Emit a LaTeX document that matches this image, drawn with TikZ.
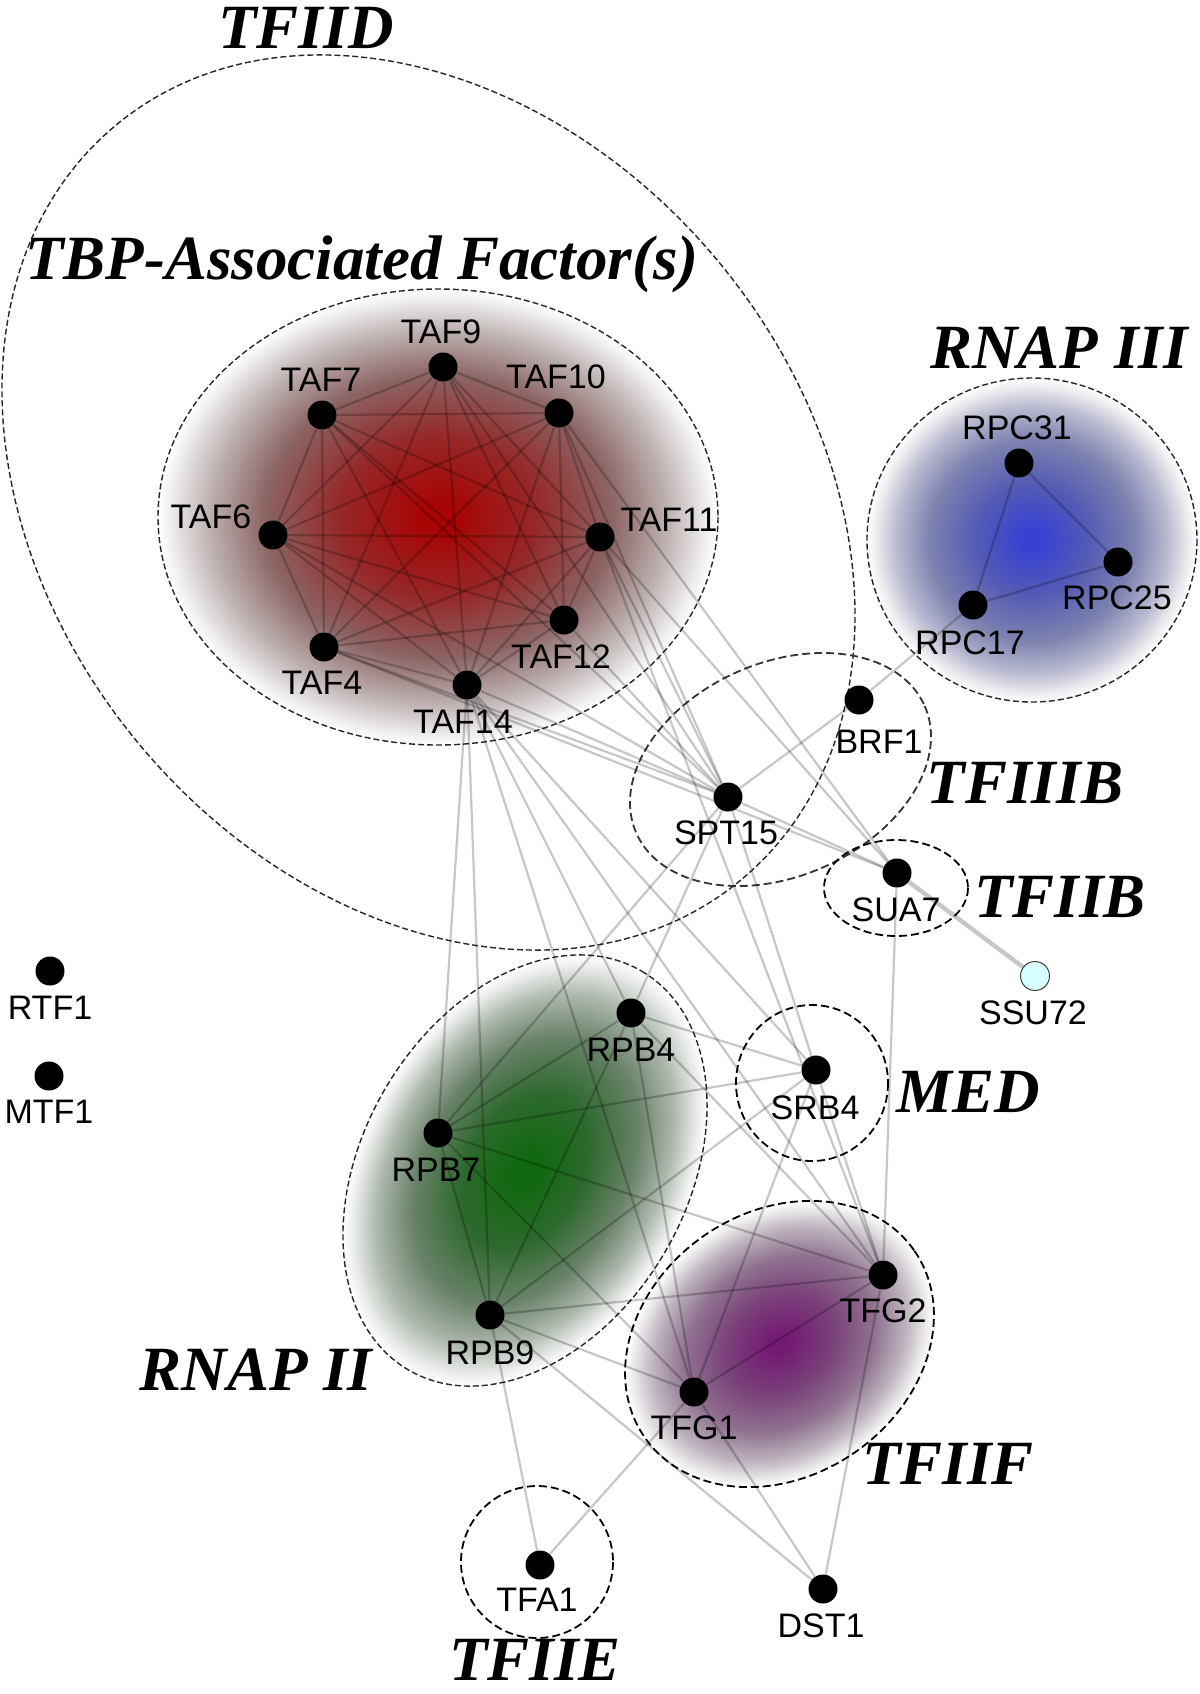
\documentclass[tikz,border=0pt]{standalone}
\usepackage{fontspec}
\setmainfont{Liberation Sans}
\newfontfamily\grpfont{Liberation Serif}
\usetikzlibrary{calc}
\definecolor{r0}{RGB}{168,4,4}\definecolor{r1}{RGB}{150,40,40}\definecolor{r2}{RGB}{140,100,100}\definecolor{r3}{RGB}{190,178,178}\definecolor{r4}{RGB}{233,230,230}
\definecolor{g0}{RGB}{15,105,15}\definecolor{g1}{RGB}{45,105,45}\definecolor{g2}{RGB}{105,130,105}\definecolor{g3}{RGB}{175,185,175}\definecolor{g4}{RGB}{232,234,232}
\definecolor{b0}{RGB}{55,65,210}\definecolor{b1}{RGB}{85,92,180}\definecolor{b2}{RGB}{125,130,175}\definecolor{b3}{RGB}{185,185,208}\definecolor{b4}{RGB}{233,233,238}
\definecolor{p0}{RGB}{115,25,115}\definecolor{p1}{RGB}{122,65,122}\definecolor{p2}{RGB}{145,115,145}\definecolor{p3}{RGB}{190,180,190}\definecolor{p4}{RGB}{233,231,233}
\definecolor{ssucol}{RGB}{215,255,255}
\pgfdeclareradialshading{redglow}{\pgfpointorigin}{color(0bp)=(r0); color(1.5bp)=(r0); color(8.8bp)=(r1); color(15.5bp)=(r2); color(20.5bp)=(r3); color(23.5bp)=(r4); color(25bp)=(white); color(50bp)=(white)}
\pgfdeclareradialshading{greenglow}{\pgfpointorigin}{color(0bp)=(g0); color(1.5bp)=(g0); color(8.8bp)=(g1); color(15.5bp)=(g2); color(20.5bp)=(g3); color(23.5bp)=(g4); color(25bp)=(white); color(50bp)=(white)}
\pgfdeclareradialshading{blueglow}{\pgfpointorigin}{color(0bp)=(b0); color(1.5bp)=(b0); color(8.8bp)=(b1); color(15.5bp)=(b2); color(20.5bp)=(b3); color(23.5bp)=(b4); color(25bp)=(white); color(50bp)=(white)}
\pgfdeclareradialshading{purpleglow}{\pgfpointorigin}{color(0bp)=(p0); color(1.5bp)=(p0); color(8.8bp)=(p1); color(15.5bp)=(p2); color(20.5bp)=(p3); color(23.5bp)=(p4); color(25bp)=(white); color(50bp)=(white)}
\begin{document}
\begin{tikzpicture}[x=0.5pt,y=-0.5pt,
  dot/.style={circle, fill=black, inner sep=0pt, minimum size=14.5pt},
  lbl/.style={inner sep=0pt, font=\fontsize{17}{17}\selectfont, text=black},
  grp/.style={inner sep=0pt, font=\grpfont\bfseries\itshape\fontsize{31.5}{31.5}\selectfont},
  edge/.style={draw=black, draw opacity=0.22, line width=1.1pt},
  thinhull/.style={draw=black!85, dash pattern=on 3pt off 1.5pt, line width=0.7pt},
  hull/.style={draw=black, dash pattern=on 4pt off 2pt, line width=0.9pt}]
\useasboundingbox (0,0) rectangle (1200,1694);
\fill[white] (0,0) rectangle (1200,1694);
% shaded clusters
\begin{scope}[transform canvas={shift={(438,517)}}]
  \shade[shading=redglow] (0,0) ellipse [x radius=280, y radius=228];
\end{scope}
\begin{scope}[transform canvas={shift={(1032,540)}}]
  \shade[shading=blueglow] (0,0) ellipse [x radius=165, y radius=162];
\end{scope}
\begin{scope}[transform canvas={shift={(525,1170.5)}, rotate=59.7}]
  \shade[shading=greenglow] (0,0) ellipse [x radius=231, y radius=162];
\end{scope}
\begin{scope}[transform canvas={shift={(779.5,1344)}, rotate=34.6}]
  \shade[shading=purpleglow] (0,0) ellipse [x radius=164, y radius=132];
\end{scope}
% hulls
\draw[thinhull, rotate around={-50.4:(428.5,502.5)}] (428.5,502.5) ellipse [x radius=490, y radius=377];
\draw[thinhull] (438,517) ellipse [x radius=280, y radius=228];
\draw[thinhull] (1032,540) ellipse [x radius=165, y radius=162];
\draw[hull, draw=black!80, rotate around={23.8:(780.5,769.5)}] (780.5,769.5) ellipse [x radius=157.6, y radius=106.7];
\draw[hull] (896,888) ellipse [x radius=72, y radius=48];
\draw[hull] (812,1083) ellipse [x radius=76, y radius=78];
\draw[thinhull, rotate around={59.7:(525,1170.5)}] (525,1170.5) ellipse [x radius=231, y radius=162];
\draw[hull, rotate around={34.6:(779.5,1344)}] (779.5,1344) ellipse [x radius=164, y radius=132];
\draw[hull] (537,1562) ellipse [x radius=76, y radius=76];
% nodes
\node[dot] (TAF9) at (443,367) {};
\node[dot] (TAF7) at (322,415) {};
\node[dot] (TAF10) at (559,413) {};
\node[dot] (TAF6) at (273,535) {};
\node[dot] (TAF11) at (600,537) {};
\node[dot] (TAF12) at (564,620) {};
\node[dot] (TAF4) at (324,647) {};
\node[dot] (TAF14) at (467,685) {};
\node[dot] (RPC31) at (1019,463) {};
\node[dot] (RPC25) at (1118,562) {};
\node[dot] (RPC17) at (973,605) {};
\node[dot] (BRF1) at (859,700) {};
\node[dot] (SPT15) at (728,797) {};
\node[dot] (SUA7) at (897,873) {};
\node[dot, fill=ssucol, draw=black!75, line width=0.5pt] (SSU72) at (1035,976) {};
\node[dot] (RTF1) at (50,971) {};
\node[dot] (MTF1) at (49,1076) {};
\node[dot] (RPB4) at (631,1013) {};
\node[dot] (SRB4) at (816,1070) {};
\node[dot] (RPB7) at (438,1133) {};
\node[dot] (RPB9) at (490,1315) {};
\node[dot] (TFG2) at (883,1275) {};
\node[dot] (TFG1) at (694,1392) {};
\node[dot] (TFA1) at (540,1565) {};
\node[dot] (DST1) at (823,1589) {};
% edges
\foreach \a/\b in {TAF9/TAF7, TAF9/TAF10, TAF9/TAF6, TAF9/TAF11, TAF9/TAF12, TAF9/TAF4, TAF9/TAF14,
  TAF7/TAF10, TAF7/TAF6, TAF7/TAF11, TAF7/TAF12, TAF7/TAF4, TAF7/TAF14,
  TAF10/TAF6, TAF10/TAF11, TAF10/TAF12, TAF10/TAF4, TAF10/TAF14,
  TAF6/TAF11, TAF6/TAF12, TAF6/TAF4, TAF6/TAF14,
  TAF11/TAF12, TAF11/TAF4, TAF11/TAF14,
  TAF12/TAF4, TAF12/TAF14, TAF4/TAF14,
  TAF9/SPT15, TAF7/SPT15, TAF10/SPT15, TAF6/SPT15, TAF11/SPT15, TAF12/SPT15, TAF4/SPT15, TAF14/SPT15,
  TAF10/SUA7, TAF11/SUA7, TAF4/SUA7,
  SPT15/BRF1, SPT15/SUA7, SPT15/RPB4, SPT15/RPB7, SPT15/SRB4,
  BRF1/RPC17, RPC31/RPC25, RPC31/RPC17, RPC17/RPC25,
  SUA7/TFG2,
  TAF14/RPB7, TAF14/RPB9, TAF14/TFG1, TAF14/RPB4, TAF14/TFG2, TAF14/SRB4, TAF11/TFG2,
  RPB4/RPB7, RPB4/RPB9, RPB7/RPB9,
  RPB7/SRB4, RPB7/TFG2, RPB7/TFG1,
  RPB9/TFG2, RPB9/SRB4, RPB9/TFG1, RPB9/DST1, RPB9/TFA1,
  RPB4/SRB4, RPB4/TFG2, RPB4/TFG1,
  SRB4/TFG1, SRB4/TFG2,
  TFG1/TFG2, TFG1/TFA1, TFG1/DST1, TFG2/DST1}
  \draw[edge] (\a) -- (\b);
\draw[edge, line width=2.2pt] (SUA7) -- (SSU72);
% node labels
\node[lbl] (l-TAF9) at (441,332) {TAF9};
\node[lbl] (l-TAF7) at (321,380) {TAF7};
\node[lbl] (l-TAF10) at (556,377) {TAF10};
\node[lbl] (l-TAF6) at (211,517) {TAF6};
\node[lbl] (l-TAF11) at (669,520) {TAF11};
\node[lbl] (l-TAF12) at (561,657) {TAF12};
\node[lbl] (l-TAF4) at (322,683) {TAF4};
\node[lbl] (l-TAF14) at (463,722) {TAF14};
\node[lbl] (l-RPC31) at (1017,428) {RPC31};
\node[lbl] (l-RPC25) at (1117,598) {RPC25};
\node[lbl] (l-RPC17) at (970,643) {RPC17};
\node[lbl] (l-BRF1) at (879,742) {BRF1};
\node[lbl] (l-SPT15) at (726,833) {SPT15};
\node[lbl] (l-SUA7) at (896,910) {SUA7};
\node[lbl] (l-SSU72) at (1033,1013) {SSU72};
\node[lbl] (l-RTF1) at (50,1008) {RTF1};
\node[lbl] (l-MTF1) at (49,1112) {MTF1};
\node[lbl] (l-RPB4) at (631,1050) {RPB4};
\node[lbl] (l-SRB4) at (815,1108) {SRB4};
\node[lbl] (l-RPB7) at (436,1170) {RPB7};
\node[lbl] (l-RPB9) at (490,1353) {RPB9};
\node[lbl] (l-TFG2) at (883,1311) {TFG2};
\node[lbl] (l-TFG1) at (694,1428) {TFG1};
\node[lbl] (l-TFA1) at (537,1600) {TFA1};
\node[lbl] (l-DST1) at (821,1626) {DST1};
% group labels
\node[grp] (g-TFIID) at (306,28) {TFIID};
\node[grp] (g-TAF) at (362,264) {TBP-Associated Factor(s)};
\node[grp] (g-RNAPIII) at (1059,348) {RNAP III};
\node[grp] (g-TFIIIB) at (1025,783) {TFIIIB};
\node[grp] (g-TFIIB) at (1060,897) {TFIIB};
\node[grp] (g-MED) at (968,1092) {MED};
\node[grp] (g-RNAPII) at (256,1370) {RNAP II};
\node[grp] (g-TFIIF) at (948,1464) {TFIIF};
\node[grp] (g-TFIIE) at (535,1660) {TFIIE};
\end{tikzpicture}
\end{document}
